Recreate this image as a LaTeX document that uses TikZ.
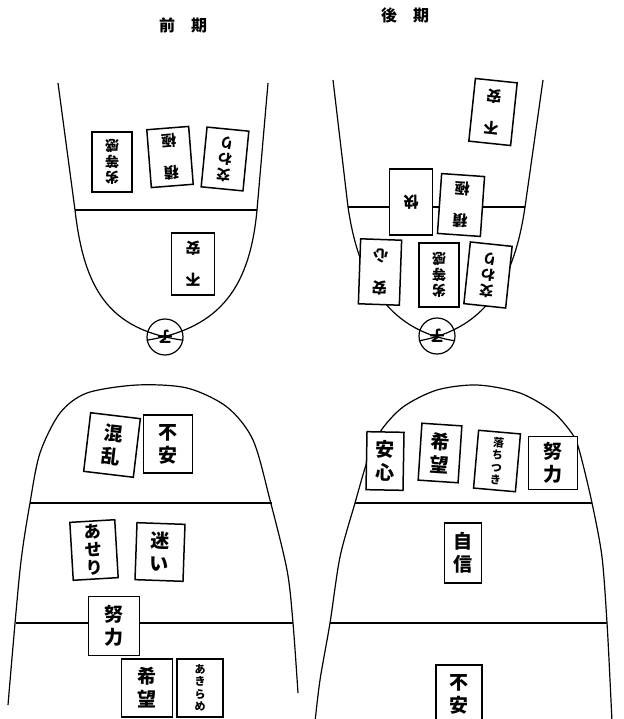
\documentclass[tikz,border=0pt]{standalone}
\usepackage{fontspec}
\newfontfamily\jpfont{Noto Sans CJK JP}
\usetikzlibrary{positioning}
\tikzset{
  wall/.style={line width=1.2pt},
  rule/.style={line width=1.6pt},
  card/.style={draw,line width=1.5pt,fill=white,align=center,inner sep=0pt,
    font=\jpfont\bfseries\fontsize{19}{23}\selectfont},
  upcard/.style={font=\jpfont\bfseries\fontsize{15}{32}\selectfont},
  smallcard/.style={font=\jpfont\bfseries\fontsize{14}{16}\selectfont},
  threecard/.style={font=\jpfont\bfseries\fontsize{17}{18}\selectfont},
  tinycard/.style={font=\jpfont\bfseries\fontsize{11}{12.5}\selectfont},
  kid/.style={draw,circle,line width=1.2pt,fill=white,minimum size=36pt,
    inner sep=0pt,rotate=180,font=\jpfont\bfseries\fontsize{15}{17}\selectfont},
  title/.style={font=\jpfont\bfseries\fontsize{16}{18}\selectfont}
}
% card: [style] name, x,y, text, angle, width, height
\newcommand{\card}[7][]{%
  \node[card,#1,rotate=#5,minimum width=#6pt,minimum height=#7pt] (#2) at (#3) {#4};}

\begin{document}
\begin{tikzpicture}[x=1pt,y=-1pt]
  \useasboundingbox (0,0) rectangle (623,719);

  \node[title] (early) at (183,25) {前\hspace{1em}期};
  \node[title] (late) at (405,15) {後\hspace{1em}期};

  % upper left
  \node[kid] (kidL) at (165,337) {子};
  \draw[wall] (58,83) -- (75,210) .. controls (84,288) and (108,330) .. (kidL.170);
  \draw[wall] (268,83) -- (257,210) .. controls (250,285) and (222,328) .. (kidL.10);
  \draw[rule] (75,210) -- (257,210);
  \card[smallcard]{tlA}{112,162}{劣\\等\\感}{180}{40}{60}
  \card[upcard]{tlB}{170,157}{積\\極}{184.5}{42}{58}
  \card[smallcard]{tlC}{225,159}{交\\わ\\り}{174.4}{42}{60}
  \card[upcard]{tlD}{193,264}{不\\安}{180}{43}{62}

  % upper right
  \node[kid] (kidR) at (437,336) {子};
  \draw[wall] (333,80) -- (348,207) .. controls (358,275) and (385,330) .. (kidR.165);
  \draw[wall] (543,80) -- (525,207) .. controls (515,275) and (490,328) .. (kidR.15);
  \draw[rule] (348,207) -- (525,207);
  \card[upcard]{trA}{493,112}{不\\安}{174}{42}{63}
  \card[upcard]{trB}{411,202}{快}{180}{43}{66}
  \card[upcard]{trC}{461,205}{積\\極}{176}{43}{60}
  \card[upcard]{trD}{380,272}{安\\心}{178}{41}{65}
  \card[smallcard]{trE}{439,275}{劣\\等\\感}{180}{40}{64}
  \card[smallcard]{trF}{488,275}{交\\わ\\り}{174}{42}{62}

  % lower left
  \draw[wall] plot[smooth] coordinates {(8,705) (20,570) (30,503) (40,453) (60,413)
    (87,393) (137,385) (187,388) (227,407) (253,440) (270,500) (287,570)
    (293,623) (298,693)};
  \draw[rule] (30,503) -- (272,503);
  \draw[rule] (16,623) -- (293,623);
  \card{blA}{112,445}{混\\乱}{-6.8}{50}{59}
  \card{blB}{168,444}{不\\安}{0}{49}{58}
  \card[threecard]{blC}{94,550}{あ\\せ\\り}{3.4}{45}{58}
  \card{blD}{160,552}{迷\\い}{-2}{48}{57}
  \card{blE}{114,626}{努\\力}{0}{51}{59}
  \card{blF}{147,688}{希\\望}{0}{51}{58}
  \card[tinycard]{blG}{200,688}{あ\\き\\ら\\め}{0}{46}{58}

  % lower right
  \draw[wall] plot[smooth] coordinates {(315,722) (320,680) (330,623) (340,557)
    (355,503) (367,462) (380,432) (403,407) (437,390) (477,385) (520,393)
    (553,412) (573,435) (580,453) (592,503) (602,557) (607,623) (610,680)
    (612,722)};
  \draw[rule] (355,503) -- (592,503);
  \draw[rule] (330,623) -- (607,623);
  \card{brA}{385,461}{安\\心}{-1}{37}{58}
  \card{brB}{440,453}{希\\望}{-3.8}{40}{57}
  \card[tinycard]{brC}{497,461}{落\\ち\\つ\\き}{-5}{42}{58}
  \card{brD}{553,463}{努\\力}{0}{49}{53}
  \card{brE}{463,553}{自\\信}{0}{37}{60}
  \card{brF}{459,694}{不\\安}{0}{46}{58}
\end{tikzpicture}
\end{document}
